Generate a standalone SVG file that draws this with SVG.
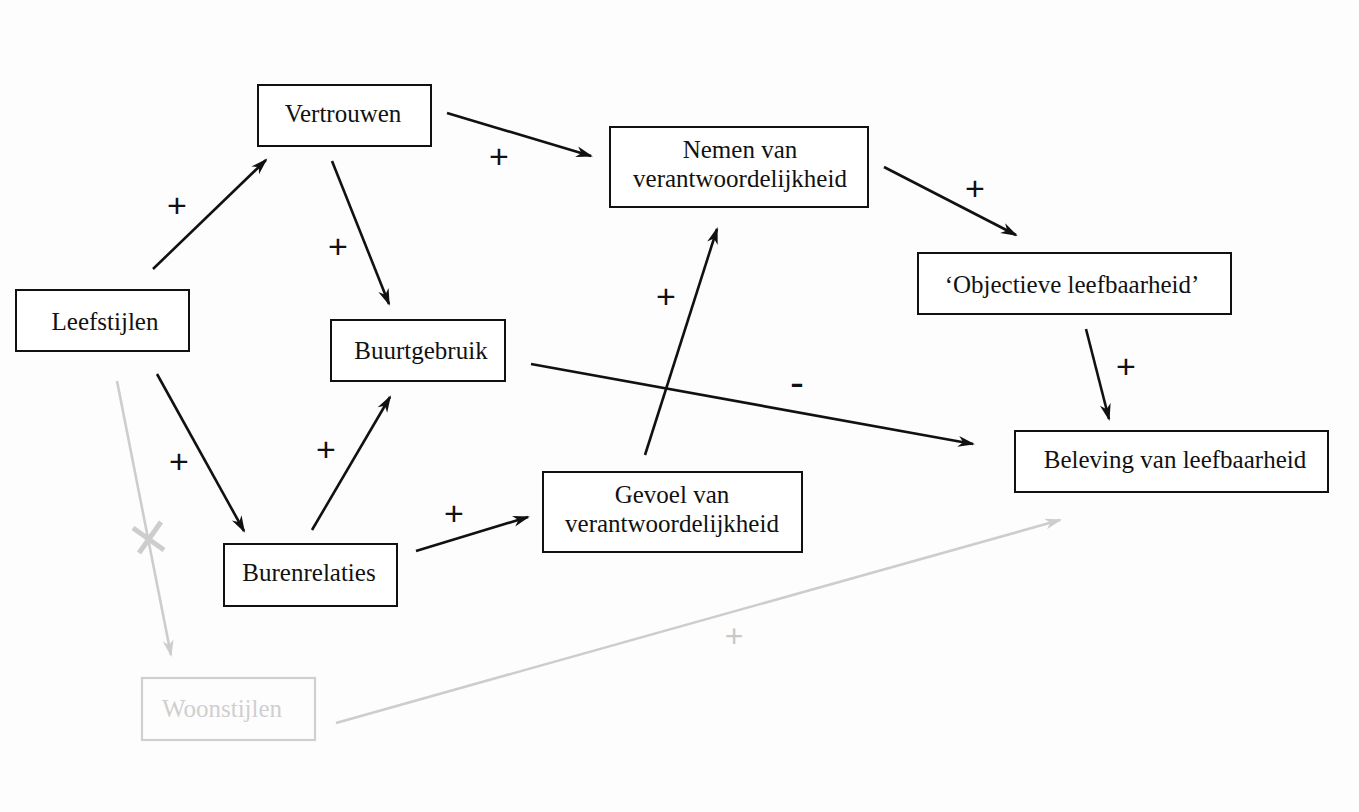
<svg xmlns="http://www.w3.org/2000/svg" width="1359" height="812" viewBox="0 0 1359 812">
<defs>
<style>
.box{fill:#fff;stroke:#111;stroke-width:2}
.gbox{fill:none;stroke:#cfcfcf;stroke-width:2.2}
.t{font-family:"Liberation Serif","Times New Roman",serif;font-size:25px;fill:#111;text-anchor:middle}
.gt{font-family:"Liberation Serif","Times New Roman",serif;font-size:25px;fill:#cfcfcf;text-anchor:middle}
.c{stroke:#111;stroke-width:2.6;fill:none;marker-end:url(#ah)}
.gc{stroke:#cdcdcd;stroke-width:2.6;fill:none}
.gx{stroke:#cdcdcd;stroke-width:5;fill:none}
.s{font-family:"Liberation Sans",Arial,sans-serif;font-size:34px;fill:#111;text-anchor:middle}
.gs{font-family:"Liberation Sans",Arial,sans-serif;font-size:32px;fill:#c8c8c8;text-anchor:middle}
</style>
<marker id="ah" markerUnits="userSpaceOnUse" viewBox="-16 -6 20 12" refX="0" refY="0" markerWidth="20" markerHeight="12" orient="auto">
<path d="M2,0 L-15,-5.5 L-10,0 L-15,5.5 Z" fill="#111"/>
</marker>
<marker id="gah" markerUnits="userSpaceOnUse" viewBox="-16 -6 20 12" refX="0" refY="0" markerWidth="20" markerHeight="12" orient="auto">
<path d="M2,0 L-15,-5.5 L-10,0 L-15,5.5 Z" fill="#cdcdcd"/>
</marker>
</defs>
<rect width="1359" height="812" fill="#fdfdfd"/>
<g id="connectors">
<line class="c" x1="153" y1="269" x2="266" y2="160"/>
<line class="c" x1="332" y1="161" x2="389" y2="304"/>
<line class="c" x1="447" y1="113" x2="591" y2="156"/>
<line class="c" x1="884" y1="167" x2="1016" y2="235"/>
<line class="c" x1="1086" y1="329" x2="1109" y2="419"/>
<line class="c" x1="531" y1="364" x2="973" y2="444"/>
<line class="c" x1="645" y1="455" x2="717" y2="229"/>
<line class="c" x1="157" y1="374" x2="244" y2="531"/>
<line class="c" x1="312" y1="530" x2="390" y2="397"/>
<line class="c" x1="416" y1="551" x2="528" y2="517"/>
<line class="gc" x1="117" y1="381" x2="171" y2="655" marker-end="url(#gah)"/>
<line class="gx" x1="133" y1="528" x2="164" y2="550"/>
<line class="gx" x1="139" y1="553" x2="161" y2="522"/>
<line class="gc" x1="336" y1="723" x2="1060" y2="520" marker-end="url(#gah)"/>
<text class="s" x="177" y="217">+</text>
<text class="s" x="338" y="258">+</text>
<text class="s" x="499" y="168">+</text>
<text class="s" x="975" y="200">+</text>
<text class="s" x="1126" y="378">+</text>
<text class="s" x="797" y="397" style="font-size:42px">-</text>
<text class="s" x="666" y="308">+</text>
<text class="s" x="179" y="473">+</text>
<text class="s" x="326" y="461">+</text>
<text class="s" x="454" y="525">+</text>
<text class="gs" x="734" y="647">+</text>
</g>
<g id="vertrouwen"><rect class="box" x="258" y="85" width="173" height="61"/><text class="t" x="343" y="122">Vertrouwen</text></g>
<g id="leefstijlen"><rect class="box" x="16" y="290" width="173" height="61"/><text class="t" x="105" y="330">Leefstijlen</text></g>
<g id="buurtgebruik"><rect class="box" x="331" y="320" width="174" height="61"/><text class="t" x="421" y="359">Buurtgebruik</text></g>
<g id="burenrelaties"><rect class="box" x="224" y="544" width="173" height="62"/><text class="t" x="309" y="581">Burenrelaties</text></g>
<g id="woonstijlen"><rect class="gbox" x="142" y="678" width="173" height="62"/><text class="gt" x="222" y="717">Woonstijlen</text></g>
<g id="nemen"><rect class="box" x="610" y="127" width="258" height="80"/><text class="t" x="740" y="158">Nemen van</text><text class="t" x="740" y="187">verantwoordelijkheid</text></g>
<g id="objectieve"><rect class="box" x="918" y="253" width="313" height="61"/><text class="t" x="1072" y="293">‘Objectieve leefbaarheid’</text></g>
<g id="beleving"><rect class="box" x="1015" y="431" width="313" height="61"/><text class="t" x="1175" y="468">Beleving van leefbaarheid</text></g>
<g id="gevoel"><rect class="box" x="543" y="472" width="259" height="80"/><text class="t" x="672" y="503">Gevoel van</text><text class="t" x="672" y="532">verantwoordelijkheid</text></g>
</svg>
